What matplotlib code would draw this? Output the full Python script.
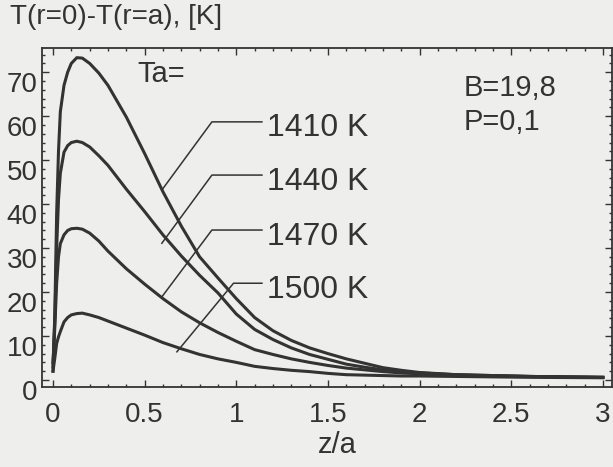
import matplotlib
matplotlib.use("Agg")
import matplotlib.pyplot as plt
import matplotlib.transforms as mtransforms
from matplotlib.ticker import MultipleLocator

plt.rcParams["font.family"] = ["Liberation Sans", "DejaVu Sans"]

# z/a grid the curves were read on
z = [0.0, 0.01, 0.02, 0.03, 0.04, 0.06, 0.08, 0.10, 0.13, 0.16, 0.20, 0.25,
     0.30, 0.40, 0.50, 0.60, 0.70, 0.80, 0.90, 1.0, 1.1, 1.2, 1.3, 1.4, 1.5,
     1.6, 1.7, 1.8, 1.9, 2.0, 2.2, 2.4, 2.6, 2.8, 3.0]

dT_1410 = [2, 15, 38, 52, 61, 67, 70, 72, 73.3, 73.2, 72, 69.8,
           67, 59.8, 51.5, 42.8, 35, 28, 23.2, 18.5, 14.2, 11.2, 9.0, 7.3, 6.0,
           4.8, 3.8, 2.8, 2.2, 1.7, 1.2, 1.0, 0.8, 0.7, 0.6]
dT_1440 = [3, 14, 30, 41, 47, 51.8, 53.3, 54, 54.3, 54, 53, 51,
           48.8, 43.4, 38.3, 33, 28.2, 23.8, 19.8, 15, 11.5, 9.2, 7.3, 5.8, 4.7,
           3.6, 2.9, 2.3, 1.9, 1.6, 1.2, 1.0, 0.8, 0.7, 0.6]
dT_1470 = [4, 12, 22, 28, 31, 33, 34, 34.4, 34.5, 34.3, 33.4, 31.6,
           29.3, 25.3, 21.8, 18.5, 15.5, 13, 10.8, 8.8, 6.9, 5.8, 4.8, 4.0, 3.3,
           2.7, 2.3, 1.9, 1.6, 1.4, 1.1, 0.9, 0.8, 0.7, 0.6]
dT_1500 = [2, 5, 8.3, 9.8, 11, 13.2, 14.2, 14.8, 15.1, 15.2, 14.8, 14.2,
           13.4, 11.8, 10.2, 8.5, 7.1, 5.8, 4.8, 4.0, 3.1, 2.6, 2.2, 1.9, 1.5,
           1.2, 1.1, 1.0, 0.9, 0.9, 0.8, 0.7, 0.6, 0.55, 0.5]

curves = [dT_1410, dT_1440, dT_1470, dT_1500]
labels = ["1410 K", "1440 K", "1470 K", "1500 K"]

# leader lines: start on the curve, knee, end of horizontal part
lead_start = [(0.594, 43.2), (0.594, 31.1), (0.594, 18.9), (0.676, 6.4)]
lead_knee = [(0.867, 58.7), (0.867, 46.6), (0.867, 34.1), (0.985, 22.0)]
lead_end_x = 1.14
label_y = [57.3, 45.0, 32.6, 20.4]

ink = "#333333"
paper = "#eeeeec"

fig = plt.figure(figsize=(6.13, 4.67), dpi=100, facecolor=paper)
ax = fig.add_axes([42 / 613, 1 - 387 / 467, 570 / 613, 339 / 467])
ax.set_facecolor(paper)

for dT in curves:
    ax.plot(z, dT, color=ink, lw=2.2, solid_joinstyle="round")

for (x0, y0), (x1, y1), ty, lab in zip(lead_start, lead_knee, label_y, labels):
    ax.plot([x0, x1, lead_end_x], [y0, y1, y1], color=ink, lw=1.1)
    ax.text(1.17, ty, lab, fontsize=23, color=ink, va="center")

ax.text(0.46, 69.7, "Ta=", fontsize=21, color=ink, va="center")
ax.text(2.24, 66.4, "B=19,8", fontsize=21, color=ink, va="center")
ax.text(2.24, 58.6, "P=0,1", fontsize=21, color=ink, va="center")

ax.set_xlim(-0.06, 3.05)
ax.set_ylim(-1.6, 75.5)
ax.set_xticks([0, 0.5, 1, 1.5, 2, 2.5, 3])
ax.set_xticklabels(["0", "0.5", "1", "1.5", "2", "2.5", "3"])
ax.set_yticks(range(0, 80, 10))
ax.xaxis.set_minor_locator(MultipleLocator(0.1))
ax.yaxis.set_minor_locator(MultipleLocator(2))
ax.tick_params(which="both", direction="in", top=True, right=True,
               color=ink, width=1.0, labelcolor=ink)
ax.tick_params(which="major", length=5)
ax.tick_params(which="minor", length=2.5)
ax.tick_params(axis="x", labelsize=20, pad=11)
ax.tick_params(axis="y", labelsize=20, pad=3)
for sp in ax.spines.values():
    sp.set_color(ink)
    sp.set_linewidth(1.3)

# the scanned y labels sit a little below their ticks
shift = mtransforms.ScaledTranslation(0, -0.10, fig.dpi_scale_trans)
for lab in ax.get_yticklabels():
    lab.set_transform(lab.get_transform() + shift)

fig.text(10 / 613, 1 - 17 / 467, "T(r=0)-T(r=a), [K]", fontsize=20,
         color=ink, va="center", ha="left")
fig.text(337 / 613, 1 - 445 / 467, "z/a", fontsize=21, color=ink,
         va="center", ha="center")

fig.savefig("out.png", dpi=100, facecolor=paper)
